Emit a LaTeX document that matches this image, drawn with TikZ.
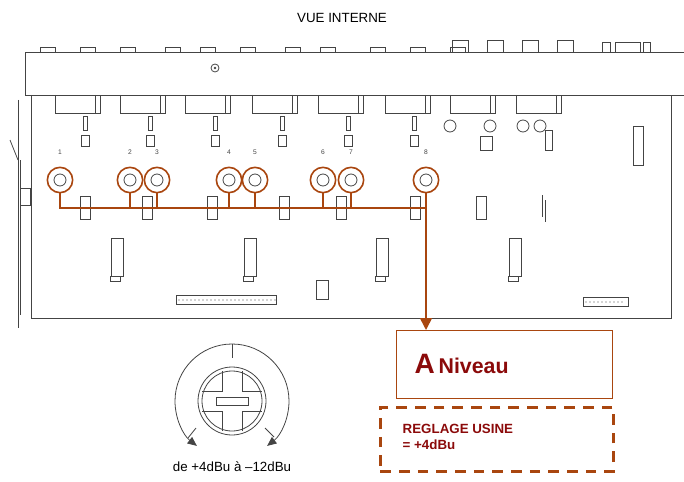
\documentclass[tikz,border=0pt]{standalone}
\usepackage{fontspec}
\setmainfont{Liberation Sans}
\usetikzlibrary{arrows.meta}
\definecolor{brn}{HTML}{A9460F}
\definecolor{dred}{HTML}{8B0A0A}
\definecolor{gl}{HTML}{444444}
\begin{document}
\begin{tikzpicture}[x=0.75pt,y=-0.75pt,
  pcb/.style={draw=gl,line width=0.6pt},
  pot/.style={circle,draw=brn,line width=1.2pt,minimum size=19pt,inner sep=0pt},
  bus/.style={draw=brn,line width=1.2pt},
  num/.style={font=\tiny,text=gl}]
\useasboundingbox (0,0) rectangle (684,481);
\node at (342,18) {VUE INTERNE};
% top bar
\draw[pcb] (25,52) rectangle (684,95);
\foreach \x in {40,80,120,165,200,240,285,320,370,410,450}
  \draw[pcb] (\x,52) -- (\x,47) -- (\x+15,47) -- (\x+15,52);
\foreach \x in {452,487,522,557} \draw[pcb] (\x,52) -- (\x,40) -- (\x+16,40) -- (\x+16,52);
\draw[pcb] (602,52) -- (602,42) -- (610,42) -- (610,52);
\draw[pcb] (615,52) -- (615,42) -- (640,42) -- (640,52);
\draw[pcb] (643,52) -- (643,42) -- (650,42) -- (650,52);
\draw[pcb] (215,68) circle (4); \fill[gl] (215,68) circle (1.3);
% board
\draw[pcb] (31,95) -- (31,318) -- (671,318) -- (671,95);
\draw[pcb] (18,100) -- (18,328); \draw[pcb] (20,160) -- (20,315);
\draw[pcb] (10,140) -- (18,160);
\draw[pcb] (20,188) rectangle (30,205);
\foreach \x in {55,120,185,252,318,385,450,516}{
  \draw[pcb] (\x,95) -- (\x,113) -- (\x+45,113) -- (\x+45,95);
  \draw[pcb] (\x+40,95) -- (\x+40,113);}
\foreach \x in {85,150,215,282,348,414}{
  \draw[pcb] (\x-2,116) rectangle (\x+2,130);
  \draw[pcb] (\x-4,135) rectangle (\x+4,146);}
\foreach \x in {450,490,523,540} \draw[pcb] (\x,126) circle (6);
\draw[pcb] (480,136) rectangle (492,150); \draw[pcb] (545,130) rectangle (552,150);
\draw[pcb] (633,126) rectangle (643,165);
% pot numbers
\foreach \x/\n in {60/1,130/2,157/3,229/4,255/5,323/6,351/7,426/8}
  \node[num] at (\x,152) {\n};
% small ICs
\foreach \x in {85,147,212,284,341,415,481}{
  \draw[pcb] (\x-5,196) rectangle (\x+5,219);}
\draw[pcb] (542,195) -- (542,217); \draw[pcb] (545,200) -- (545,222);
\foreach \x in {117,250,382,515}{
  \draw[pcb] (\x-6,238) rectangle (\x+6,276);
  \draw[pcb] (\x-7,276) rectangle (\x+3,281);}
\draw[pcb] (316,280) rectangle (328,299);
\draw[pcb] (176,295) rectangle (276,304);
\foreach \i in {0,...,24} \fill[gl] (179+\i*4,300) circle (0.6);
\draw[pcb] (583,297) rectangle (628,306);
\foreach \i in {0,...,9} \fill[gl] (586+\i*4,302) circle (0.6);
% pots
\foreach \x/\n in {60/a,130/b,157/c,229/d,255/e,323/f,351/g,426/h}{
  \node[pot] (p\n) at (\x,180) {};
  \draw[pcb] (\x,180) circle (6);}
\coordinate (bl) at (60,208);
\coordinate (br) at (426,208);
\draw[bus] (pa.south) -- (bl) -- (br) -- (ph.south);
\foreach \n in {b,c,d,e,f,g} \draw[bus] (p\n.south) -- (p\n.south |- bl);
\node[draw=brn,line width=1pt,minimum width=162pt,minimum height=51pt,
  anchor=north west,inner sep=0pt] (niv) at (396,330) {};
\node[anchor=west,text=dred,font=\bfseries] at (410,364) {{\fontsize{21}{24}\selectfont A} {\fontsize{16}{18}\selectfont Niveau}};
\draw[bus,-{Triangle[length=9pt,width=9pt]}] (br) -- (br |- niv.north);
\node[draw=brn,line width=2.2pt,dash pattern=on 8pt off 6pt,minimum width=175pt,minimum height=48pt,
  anchor=north west,inner sep=0pt] (usine) at (379,406) {};
\node[anchor=west,text=dred,font=\bfseries,align=left] at (398,437) {REGLAGE USINE\\= +4dBu};
% knob
\draw[pcb,-{Triangle[length=7pt,width=6pt]}] (232,344) arc (270:128:57);
\draw[pcb,-{Triangle[length=7pt,width=6pt]}] (232,344) arc (270:412:57);
\draw[pcb] (232,344) -- (232,358);
\draw[pcb] (196,428) -- (188,438); \draw[pcb] (265,428) -- (274,437);
\draw[pcb] (232,401) circle (34); \draw[pcb] (232,401) circle (30);
\draw[pcb] (222,371) -- (222,391) -- (202,391); \draw[pcb] (242,371) -- (242,391) -- (262,391);
\draw[pcb] (222,431) -- (222,411) -- (202,411); \draw[pcb] (242,431) -- (242,411) -- (262,411);
\draw[pcb] (216,397) rectangle (248,405);
\node at (232,467) {de +4dBu à –12dBu};
\end{tikzpicture}
\end{document}
